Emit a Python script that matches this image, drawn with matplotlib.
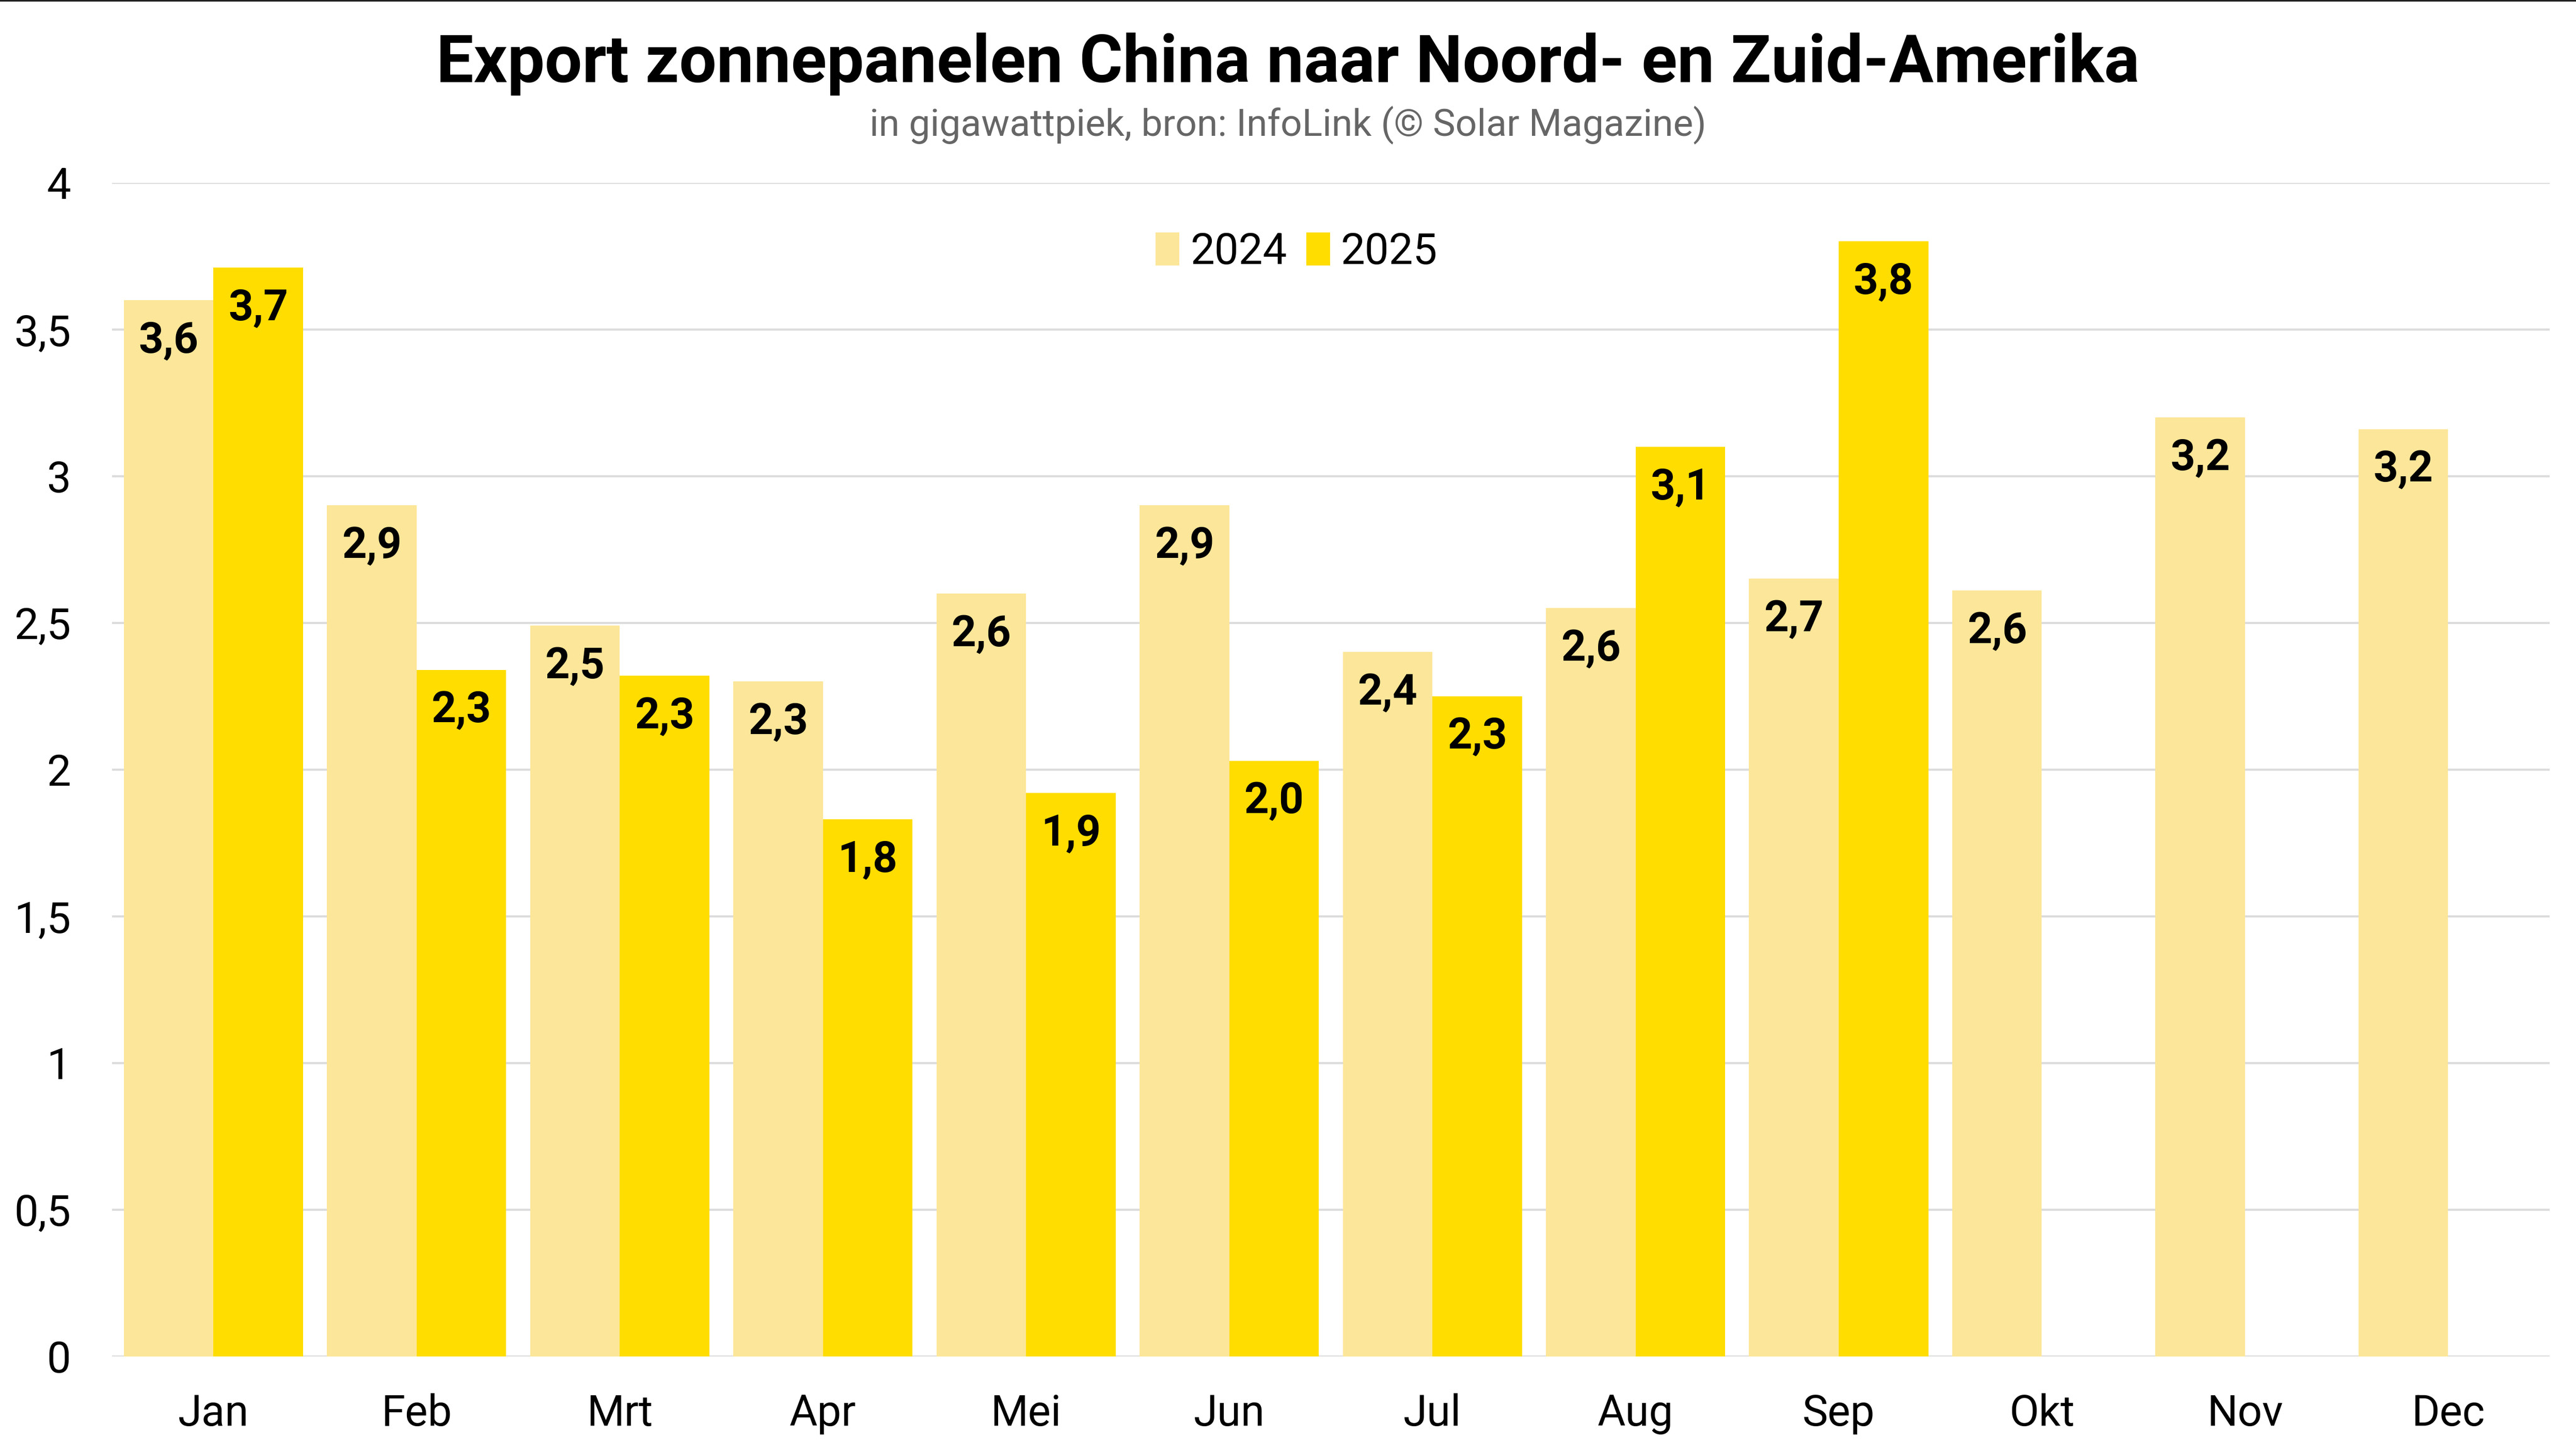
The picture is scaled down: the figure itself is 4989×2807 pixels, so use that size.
import numpy as np
import matplotlib.pyplot as plt
from matplotlib.lines import Line2D
from matplotlib.patches import Patch

plt.rcParams['font.family'] = ['Roboto', 'DejaVu Sans']

# Data (gigawattpiek)
months = ['Jan', 'Feb', 'Mrt', 'Apr', 'Mei', 'Jun', 'Jul', 'Aug', 'Sep', 'Okt', 'Nov', 'Dec']
exp_2024 = [3.60, 2.90, 2.49, 2.30, 2.60, 2.90, 2.40, 2.55, 2.65, 2.61, 3.20, 3.16]
exp_2025 = [3.71, 2.34, 2.32, 1.83, 1.92, 2.03, 2.25, 3.10, 3.80]
yticks = [0, 0.5, 1, 1.5, 2, 2.5, 3, 3.5, 4]

COL_2024 = '#FCE699'
COL_2025 = '#FFDD00'

fig = plt.figure(figsize=(4989 / 300, 2807 / 300), dpi=300)
ax = fig.add_axes([0.0434, 0.0646, 0.9464, 0.8094])

x = np.arange(len(months))
w = 0.441
b24 = ax.bar(x - w / 2, exp_2024, width=w, color=COL_2024, zorder=2)
b25 = ax.bar(x[:len(exp_2025)] + w / 2, exp_2025, width=w, color=COL_2025, zorder=2)


def fmt(v):
    # round half up, Dutch decimal comma
    return f'{v + 1e-9:.1f}'.replace('.', ',')


for bars, vals in ((b24, exp_2024), (b25, exp_2025)):
    for rect, v in zip(bars, vals):
        ax.annotate(fmt(v), (rect.get_x() + rect.get_width() / 2, v),
                    xytext=(0, -19), textcoords='offset points',
                    ha='center', va='center', fontsize=20, fontweight='bold',
                    color='black', zorder=3)

ax.set_xlim(-0.5, 11.5)
ax.set_ylim(0, 4)
ax.set_yticks(yticks)
ax.set_yticklabels([f'{t:g}'.replace('.', ',') for t in yticks])
ax.set_xticks(x)
ax.set_xticklabels(months)
ax.tick_params(axis='both', length=0, labelsize=20, colors='black')
ax.tick_params(axis='x', pad=17)
ax.tick_params(axis='y', pad=19)
ax.yaxis.grid(True, color='#DCDCDC', linewidth=1.0, zorder=0)
for s in ax.spines.values():
    s.set_visible(False)
ax.axhline(0, color='#D9D9D9', linewidth=1.2, zorder=1)

handles = [Patch(facecolor=COL_2024, label='2024'), Patch(facecolor=COL_2025, label='2025')]
ax.legend(handles=handles, loc='center', bbox_to_anchor=(0.486, 0.941),
          ncol=2, frameon=False, fontsize=20, handlelength=0.55, handleheight=0.8,
          handletextpad=0.25, columnspacing=0.45)

fig.text(0.5, 0.956, 'Export zonnepanelen China naar Noord- en Zuid-Amerika',
         ha='center', va='center', fontsize=30.8, fontweight='bold', color='black')
fig.text(0.5, 0.914, 'in gigawattpiek, bron: InfoLink (© Solar Magazine)',
         ha='center', va='center', fontsize=17.6, color='#666666')

fig.add_artist(Line2D([0, 1], [0.9995, 0.9995], transform=fig.transFigure,
                      color='#222222', linewidth=1.0))

fig.savefig('out.png', dpi=300, facecolor='white')
